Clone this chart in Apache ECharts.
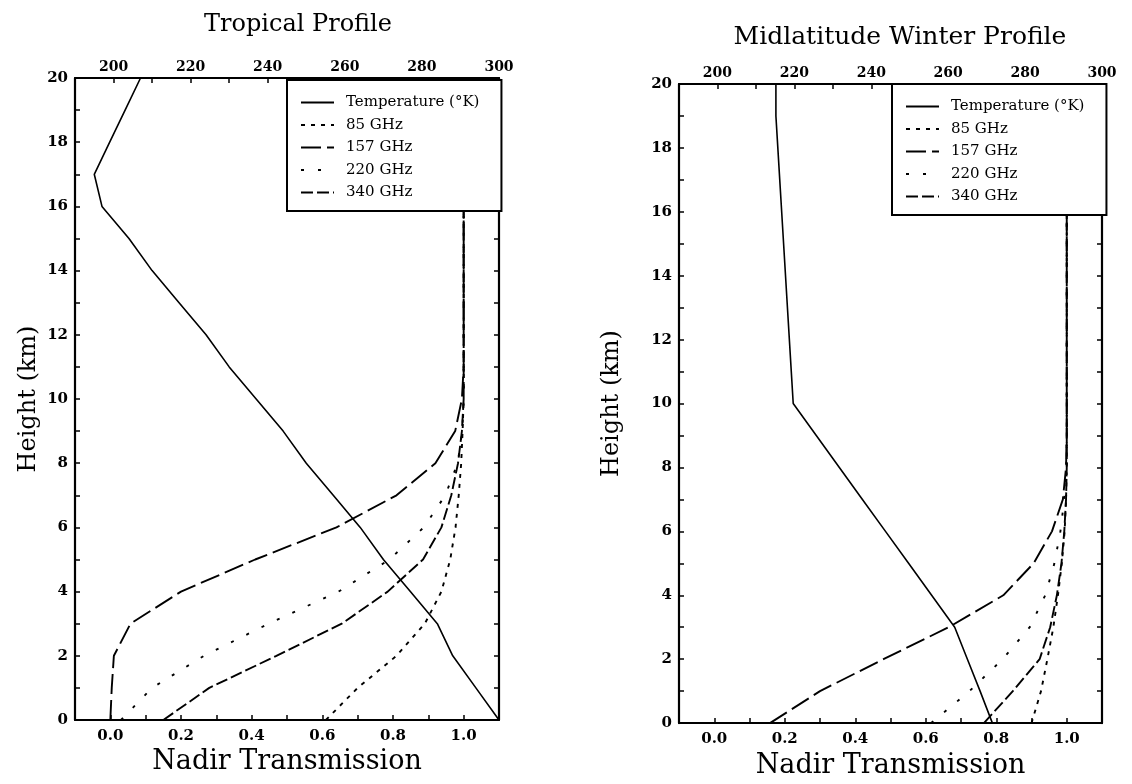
<!DOCTYPE html>
<html>
<head>
<meta charset="utf-8">
<script src="https://cdn.jsdelivr.net/npm/echarts@6/dist/echarts.min.js"></script>
<style>
html,body{margin:0;padding:0;background:#fff;}
#chart{width:1132px;height:784px;}
</style>
</head>
<body>
<div id="chart"></div>
<script>
// ---- data ----
const heights = [0,1,2,3,4,5,6,7,8,9,10,11,12,13,14,15,16,17,18,19,20];
const seriesNames = ['Temperature (°K)','85 GHz','157 GHz','220 GHz','340 GHz'];

// Tropical profile
const tropTemp = [300.0,294.0,288.0,284.0,277.0,270.0,264.0,257.0,250.0,244.0,237.0,230.0,224.0,217.0,210.0,204.0,197.0,195.0,199.0,203.0,207.0];
const trop85  = [0.61,0.70,0.81,0.89,0.937,0.962,0.977,0.986,0.993,0.997,1.0,1.0,1.0,1.0,1.0,1.0,1.0,1.0,1.0,1.0,1.0];
const trop157 = [0.0,0.004,0.01,0.057,0.20,0.41,0.64,0.81,0.92,0.976,0.995,1.0,1.0,1.0,1.0,1.0,1.0,1.0,1.0,1.0,1.0];
const trop220 = [0.03,0.118,0.265,0.448,0.646,0.79,0.887,0.948,0.983,0.996,1.0,1.0,1.0,1.0,1.0,1.0,1.0,1.0,1.0,1.0,1.0];
const trop340 = [0.15,0.28,0.47,0.655,0.785,0.885,0.937,0.965,0.984,0.995,1.0,1.0,1.0,1.0,1.0,1.0,1.0,1.0,1.0,1.0,1.0];

// Midlatitude winter profile
const mlwTemp = [271.5,268.3,265.0,261.7,255.7,249.7,243.7,237.7,231.7,225.7,219.7,219.2,218.7,218.2,217.7,217.2,216.7,216.2,215.7,215.2,215.2];
const mlw85  = [0.90,0.927,0.945,0.962,0.975,0.986,0.994,0.998,1.0,1.0,1.0,1.0,1.0,1.0,1.0,1.0,1.0,1.0,1.0,1.0,1.0];
const mlw157 = [0.158,0.30,0.48,0.665,0.82,0.906,0.958,0.989,0.998,1.0,1.0,1.0,1.0,1.0,1.0,1.0,1.0,1.0,1.0,1.0,1.0];
const mlw220 = [0.615,0.724,0.818,0.895,0.939,0.965,0.982,0.993,0.999,1.0,1.0,1.0,1.0,1.0,1.0,1.0,1.0,1.0,1.0,1.0,1.0];
const mlw340 = [0.765,0.847,0.923,0.953,0.972,0.985,0.993,0.998,1.0,1.0,1.0,1.0,1.0,1.0,1.0,1.0,1.0,1.0,1.0,1.0,1.0];

const titles = ['Tropical Profile','Midlatitude Winter Profile'];

// ---- styles ----
const serif = '"DejaVu Serif", serif';
const dashStyles = {
  'Temperature (°K)': 'solid',
  '85 GHz': [4,6],
  '157 GHz': [20,6],
  '220 GHz': [3,14],
  '340 GHz': [12,4]
};

const grids = [
  {left:75, top:78, width:424, height:642},
  {left:679, top:84, width:423, height:641}
];

function axisCommon(){
  return {
    axisLine:{show:true, onZero:false, lineStyle:{color:'#000', width:2.2}},
    axisTick:{show:true, inside:true, length:5, lineStyle:{color:'#000', width:1.5}},
    splitLine:{show:false}
  };
}

const xAxes = [], yAxes = [];
const yNameGaps = [34, 55];
for (let g=0; g<2; g++){
  xAxes.push(Object.assign(axisCommon(), {
    type:'value', gridIndex:g, position:'bottom', min:-0.1, max:1.1, interval:0.1,
    axisLabel:{margin:9, color:'#000', fontFamily:serif, fontWeight:'bold', fontSize:15,
      formatter:v=>{const k=Math.round(v*10); return (k>=0 && k<=10 && k%2===0)?(k/10).toFixed(1):'';}},
    name:'Nadir Transmission', nameLocation:'middle', nameGap:25,
    nameTextStyle:{color:'#000', fontFamily:serif, fontSize:27}
  }));
  xAxes.push(Object.assign(axisCommon(), {
    type:'value', gridIndex:g, position:'top', min:190, max:300, interval:10,
    axisLabel:{margin:4, color:'#000', fontFamily:serif, fontWeight:'bold', fontSize:14,
      formatter:v=>(Math.round(v)%20===0 && v>=200)?String(Math.round(v)):''}
  }));
  yAxes.push(Object.assign(axisCommon(), {
    type:'value', gridIndex:g, position:'left', min:0, max:20, interval:1,
    axisLabel:{margin:7, color:'#000', fontFamily:serif, fontWeight:'bold', fontSize:15,
      formatter:v=>(Math.round(v)%2===0)?String(Math.round(v)):''},
    name:'Height (km)', nameLocation:'middle', nameGap:yNameGaps[g], nameRotate:90,
    nameTextStyle:{color:'#000', fontFamily:serif, fontSize:24}
  }));
  yAxes.push(Object.assign(axisCommon(), {
    type:'value', gridIndex:g, position:'right', min:0, max:20, interval:1,
    axisLabel:{show:false}
  }));
}

const profileData = [
  [tropTemp, trop85, trop157, trop220, trop340],
  [mlwTemp, mlw85, mlw157, mlw220, mlw340]
];

const series = [];
for (let g=0; g<2; g++){
  profileData[g].forEach((arr, idx)=>{
    const name = seriesNames[idx];
    series.push({
      type:'line', name:name,
      xAxisIndex: g*2 + (idx===0 ? 1 : 0),
      yAxisIndex: g*2,
      symbol:'none', silent:true,
      color:'#000',
      itemStyle:{color:'#000'},
      lineStyle:{color:'#000', width: idx===0 ? 1.6 : 1.9, type: dashStyles[name]},
      data: heights.map((h,i)=>[arr[i], h])
    });
  });
}

const legendPos = [{left:287, top:80}, {left:892, top:84}];
const legends = legendPos.map(p=>({
  left:p.left, top:p.top, orient:'vertical',
  data: seriesNames,
  backgroundColor:'#fff', borderColor:'#000', borderWidth:2,
  padding:[15,22,11,13], itemWidth:33, itemHeight:12, itemGap:7.5,
  selectedMode:false,
  itemStyle:{opacity:0},
  textStyle:{color:'#000', fontFamily:serif, fontSize:15, lineHeight:15, padding:[0,0,0,7]}
}));

const option = {
  backgroundColor:'#fff',
  animation:false,
  color:['#000'],
  title:[
    {text:titles[0], left:293, top:8, textAlign:'center', textStyle:{color:'#000', fontFamily:serif, fontWeight:'normal', fontSize:24}},
    {text:titles[1], left:895, top:20, textAlign:'center', textStyle:{color:'#000', fontFamily:serif, fontWeight:'normal', fontSize:25}}
  ],
  grid: grids,
  xAxis: xAxes,
  yAxis: yAxes,
  legend: legends,
  series: series
};

const chart = echarts.init(document.getElementById('chart'), null, {renderer:'canvas'});
chart.setOption(option);
</script>
</body>
</html>
